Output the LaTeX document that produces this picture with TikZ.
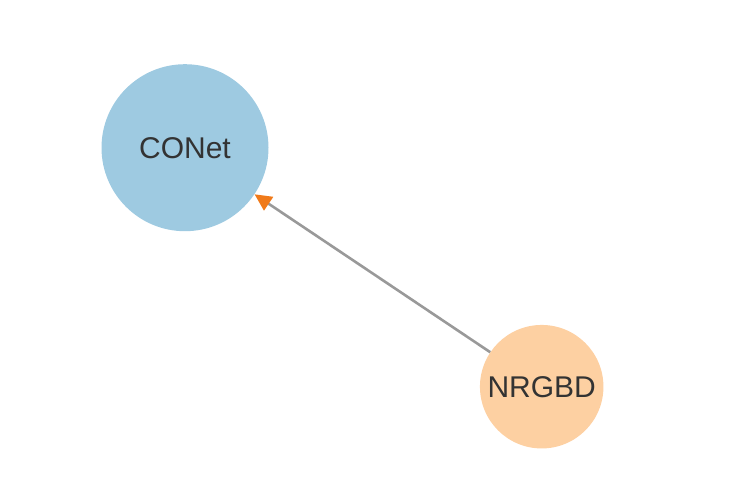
\documentclass[tikz,border=0pt]{standalone}
\usepackage{fontspec}
\setmainfont{Liberation Sans}
\usetikzlibrary{arrows.meta}
\definecolor{cblue}{HTML}{9ECAE1}
\definecolor{corange}{HTML}{FDD0A2}
\definecolor{ctext}{HTML}{333333}
\definecolor{cedge}{HTML}{999999}
\definecolor{carrow}{HTML}{F07A1A}
\begin{document}
\begin{tikzpicture}[x=1pt,y=-1pt,
  nodecirc/.style={circle,inner sep=0pt,text=ctext,font=\fontsize{30}{34}\selectfont},
  edge/.style={draw=cedge,line width=2.6pt,-{Triangle[length=17pt,width=16pt,color=carrow]}}]
\useasboundingbox (0,0) rectangle (742,482);
\node[nodecirc,fill=cblue,minimum size=167pt] (conet) at (185,147.7) {CONet};
\node[nodecirc,fill=corange,minimum size=123.5pt] (nrgbd) at (541.7,386.7) {NRGBD};
\draw[edge] (nrgbd) -- (conet);
\end{tikzpicture}
\end{document}
